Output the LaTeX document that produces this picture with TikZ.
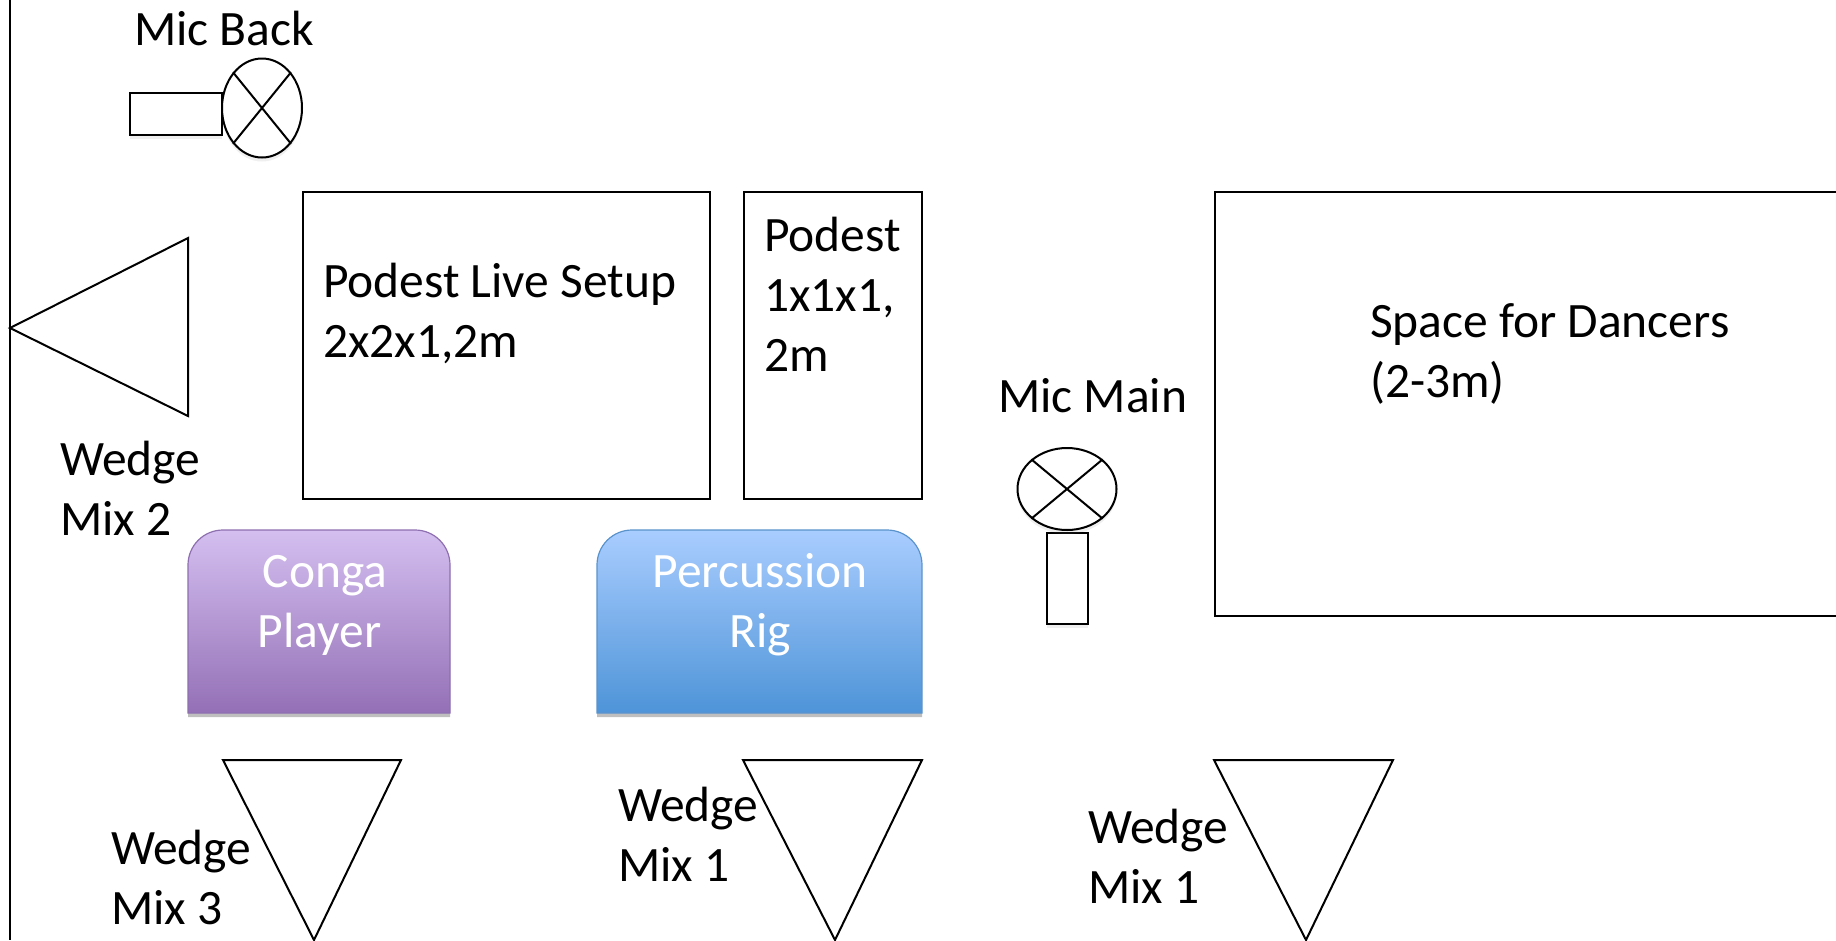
\documentclass[tikz,border=0pt]{standalone}
\usepackage{fontspec}
\setmainfont{Carlito}
\usetikzlibrary{shapes.geometric,shadows}
\definecolor{congatop}{HTML}{D4BFF0}
\definecolor{congabot}{HTML}{9470B6}
\definecolor{congaline}{HTML}{8E6FB0}
\definecolor{perctop}{HTML}{A9CDFF}
\definecolor{percbot}{HTML}{4E94D8}
\definecolor{percline}{HTML}{5A93CC}

\begin{document}
\begin{tikzpicture}[x=1pt, y=-1pt, line width=2pt,
    main/.style = {draw, rectangle, inner sep=0pt, anchor=north west},
    mic/.style = {draw, ellipse, inner sep=0pt, fill=white, drop shadow={opacity=.12, shadow xshift=0pt, shadow yshift=-4pt}},
    micbody/.style = {main, fill=white, drop shadow={opacity=.12, shadow xshift=0pt, shadow yshift=-4pt}},
    wedge/.style = {draw, fill=white, line join=miter},
    label/.style = {inner sep=0pt, anchor=base west, align=left, font=\fontsize{49.5}{60}\selectfont},
    rig/.style = {inner sep=0pt, anchor=base, align=center, text=white, font=\fontsize{49.5}{60}\selectfont},
    rigbox/.style = {line width=1.2pt, drop shadow={opacity=.5, shadow xshift=0pt, shadow yshift=-4pt}}]
    \useasboundingbox (0,0) rectangle (1836,940);
    \fill[white] (0,0) rectangle (1836,940);
    \coordinate (wallt) at (10,0);
    \coordinate (wallb) at (10,940);
    \draw (wallt) -- (wallb);

    % mic at the back
    \node[micbody, minimum width=92pt, minimum height=42pt] (backbody) at (129,92) {};
    \node[mic, minimum width=80pt, minimum height=99pt] (backhead) at (262,108) {};
    \draw (backhead.north west) -- (backhead.south east);
    \draw (backhead.north east) -- (backhead.south west);
    \node[label] (backtext) at (133,45) {Mic Back};

    % podests and dancers
    \node[main, minimum width=407pt, minimum height=307pt] (live) at (302,191) {};
    \node[main, minimum width=178pt, minimum height=307pt] (small) at (743,191) {};
    \node[main, minimum width=630pt, minimum height=424pt] (dancers) at (1214,191) {};
    \node[label] (livetext) at (322,357) {Podest Live Setup\\2x2x1,2m};
    \node[label] (smalltext) at (763,371) {Podest\\1x1x1,\\2m};
    \node[label] (dancertext) at (1369,397) {Space for Dancers\\(2-3m)};

    % main mic
    \node[micbody, minimum width=41pt, minimum height=91pt] (mainbody) at (1046,532) {};
    \node[mic, minimum width=99pt, minimum height=82pt] (mainhead) at (1067,489) {};
    \draw (mainhead.north west) -- (mainhead.south east);
    \draw (mainhead.north east) -- (mainhead.south west);
    \node[label] (maintext) at (997,412) {Mic Main};

    % players
    \draw[rigbox, draw=congaline, top color=congatop, bottom color=congabot] (188,713) [rounded corners=35pt] -- (188,530) -- (450,530) [sharp corners] -- (450,713) -- cycle;
    \draw[rigbox, draw=percline, top color=perctop, bottom color=percbot] (597,713) [rounded corners=35pt] -- (597,530) -- (922,530) [sharp corners] -- (922,713) -- cycle;
    \node[rig] (conga) at (324,647) {\hspace*{2pt}Conga\\Player\hspace*{9pt}};
    \node[rig] (perc) at (760,647) {Percussion\\Rig};

    % wedges
    \draw[wedge] (188,238) -- (188,416) -- (10,328) -- cycle;
    \draw[wedge] (223,760) -- (401,760) -- (314,940) -- cycle;
    \draw[wedge] (743,760) -- (922,760) -- (835,940) -- cycle;
    \draw[wedge] (1214,760) -- (1393,760) -- (1306,940) -- cycle;
    \node[label] (wedgetwo) at (59,535) {Wedge\\Mix 2};
    \node[label] (wedgethree) at (110,924) {Wedge\\Mix 3};
    \node[label] (wedgeone) at (617,881) {Wedge\\Mix 1};
    \node[label] (wedgefront) at (1087,903) {Wedge\\Mix 1};
\end{tikzpicture}
\end{document}
